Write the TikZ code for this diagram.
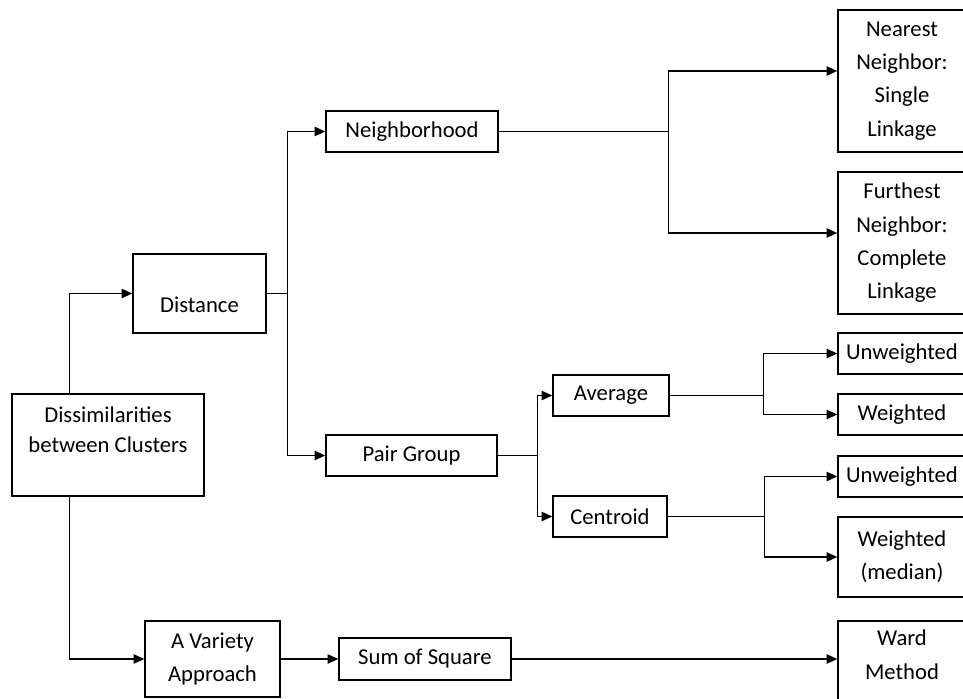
\documentclass[tikz,border=0pt]{standalone}
\usepackage{fontspec}
\setmainfont{Carlito}
\usetikzlibrary{arrows.meta}
\begin{document}
\begin{tikzpicture}[x=0.75pt,y=-0.75pt,
  box/.style={draw,line width=1.1pt,rectangle,inner sep=0pt,align=center,
    font=\fontsize{17pt}{25pt}\selectfont},
  conn/.style={line width=1.1pt},
  arr/.style={line width=1.1pt,-{Triangle[length=8pt,width=7pt]}}]
\useasboundingbox (0,0) rectangle (963,699);
% left part
\node[box,minimum width=192*0.75pt,minimum height=102*0.75pt,font=\fontsize{17pt}{22.5pt}\selectfont] (dis) at (108,445) {Dissimilarities\\between Clusters\\\mbox{}};
\node[box,minimum width=133*0.75pt,minimum height=79*0.75pt] (dist) at (199.5,293.5) {\raisebox{-14.5pt}[0pt][0pt]{Distance}};
\node[box,minimum width=172*0.75pt,minimum height=41*0.75pt] (nbh) at (412,131.5) {Neighborhood};
\node[box,minimum width=171*0.75pt,minimum height=41*0.75pt] (pair) at (411.5,455.5) {Pair Group};
\node[box,minimum width=116*0.75pt,minimum height=41*0.75pt] (avg) at (611,395.5) {Average};
\node[box,minimum width=114*0.75pt,minimum height=41*0.75pt] (cen) at (610,516.5) {Centroid};
\node[box,minimum width=135*0.75pt,minimum height=76*0.75pt] (var) at (212.5,659) {A Variety\\Approach};
\node[box,minimum width=172*0.75pt,minimum height=42*0.75pt] (sum) at (425,659) {Sum of Square};
% right part
\node[box,minimum width=128*0.75pt,minimum height=142*0.75pt] (near) at (902,81) {Nearest\\Neighbor:\\Single\\Linkage};
\node[box,minimum width=128*0.75pt,minimum height=142*0.75pt] (fur) at (902,243) {Furthest\\Neighbor:\\Complete\\Linkage};
\node[box,minimum width=128*0.75pt,minimum height=41*0.75pt] (uw1) at (902,353.5) {Unweighted};
\node[box,minimum width=128*0.75pt,minimum height=41*0.75pt] (w1) at (902,414.5) {Weighted};
\node[box,minimum width=128*0.75pt,minimum height=41*0.75pt] (uw2) at (902,476.5) {Unweighted};
\node[box,minimum width=128*0.75pt,minimum height=80*0.75pt] (wm) at (902,557) {Weighted\\(median)};
\node[box,minimum width=128*0.75pt,minimum height=84*0.75pt] (ward) at (902,663) {\raisebox{1pt}[0pt][0pt]{\begin{tabular}{@{}c@{}}Ward\\Method\end{tabular}}};
% connectors
\draw[arr] ([xshift=43.5pt]dis.north west) |- (dist.west);
\draw[arr] ([xshift=43.5pt]dis.south west) |- (var.west);
\draw[conn] (dist.east) -- ++(21,0) coordinate (f1);
\draw[arr] (f1) |- (nbh.west);
\draw[arr] (f1) |- (pair.west);
\draw[conn] (nbh.east) -- ++(170,0) coordinate (f2);
\draw[arr] (f2) |- ([yshift=7.5pt]near.west);
\draw[arr] (f2) |- ([yshift=7.5pt]fur.west);
\draw[conn] (pair.east) -- ++(40,0) coordinate (f3);
\draw[arr] (f3) |- (avg.west);
\draw[arr] (f3) |- (cen.west);
\draw[conn] (avg.east) -- ++(94,0) coordinate (f4);
\draw[arr] (f4) |- (uw1.west);
\draw[arr] (f4) |- (w1.west);
\draw[conn] (cen.east) -- ++(97,0) coordinate (f5);
\draw[arr] (f5) |- (uw2.west);
\draw[arr] (f5) |- (wm.west);
\draw[arr] (var.east) -- (sum.west);
\draw[arr] (sum.east) -- (sum.east -| ward.west);
\end{tikzpicture}
\end{document}
